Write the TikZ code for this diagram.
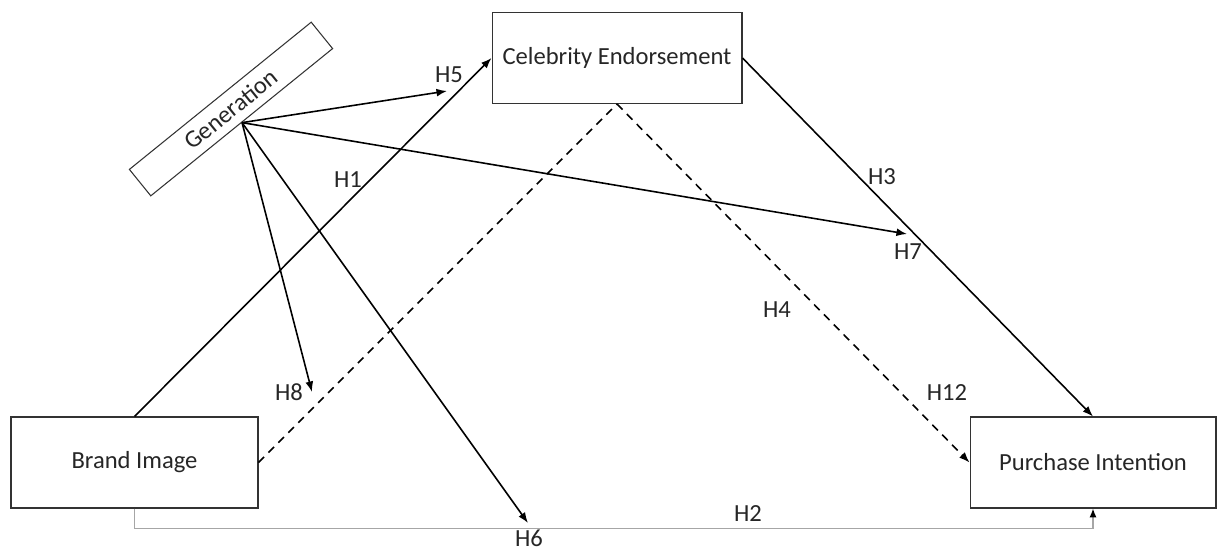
\documentclass[tikz,border=0pt]{standalone}
\usepackage{fontspec}
\setmainfont{Carlito}
\usetikzlibrary{positioning, arrows.meta}
\definecolor{inkgray}{HTML}{262626}
\definecolor{linkgray}{HTML}{A6A6A6}

\tikzset{
  construct/.style={draw=black!80, line width=0.6pt, fill=white, text=inkgray,
    font=\fontsize{14}{16}\selectfont, minimum width=4.96cm, minimum height=1.82cm},
  hlabel/.style={text=inkgray, font=\fontsize{14}{16}\selectfont, inner sep=1pt},
  link/.style={draw=black, line width=0.9pt},
  tip/.style={-{Latex[length=6pt,width=4.5pt]}}
}

\begin{document}
\begin{tikzpicture}[x=0.02cm, y=-0.02cm]
  \useasboundingbox (0,0) rectangle (1218,549);

  % constructs
  \node[construct, minimum width=5cm] (ce) at (617,58) {Celebrity Endorsement};
  \node[construct, minimum width=4.94cm] (bi) at (134.5,462.5) {Brand Image};
  \node[construct, minimum width=4.92cm] (pi) at (1093,462.5) {Purchase Intention};
  \node[construct, rotate=39, minimum width=4.68cm, minimum height=0.68cm, inner sep=0pt] (gen) at (231,109) {Generation};

  % moderator arrow ends
  \coordinate (h5end) at (447,91);
  \coordinate (h7end) at (907,234);
  \coordinate (h8end) at (312,392);
  \coordinate (h6end) at (528,523);

  % direct paths
  \draw[link, tip] (bi.north) -- (ce.west);
  \draw[link, tip] (ce.east) -- (pi.north);
  \draw[link, dash pattern=on 4.5pt off 3.5pt] (bi.east) -- (ce.south);
  \draw[link, tip, dash pattern=on 4.5pt off 3.5pt] (ce.south) -- (pi.west);
  \draw[draw=linkgray, line width=0.8pt, -{Latex[length=5pt,width=4pt,black]}] (bi.south) -- ++(0,20) -| (pi.south);

  % generation paths
  \draw[link, tip] (gen.south) -- (h5end);
  \draw[link, tip] (gen.south) -- (h7end);
  \draw[link, tip] (gen.south) -- (h8end);
  \draw[link, tip] (gen.south) -- (h6end);

  % hypothesis labels
  \node[hlabel] (lh1) at (348,180) {H1};
  \node[hlabel] (lh2) at (748,514) {H2};
  \node[hlabel] (lh3) at (882,177) {H3};
  \node[hlabel] (lh4) at (777,310) {H4};
  \node[hlabel] (lh5) at (449,75) {H5};
  \node[hlabel] (lh6) at (529,538) {H6};
  \node[hlabel] (lh7) at (908,252) {H7};
  \node[hlabel] (lh8) at (289,392) {H8};
  \node[hlabel] (lh12) at (947,393) {H12};
\end{tikzpicture}
\end{document}
